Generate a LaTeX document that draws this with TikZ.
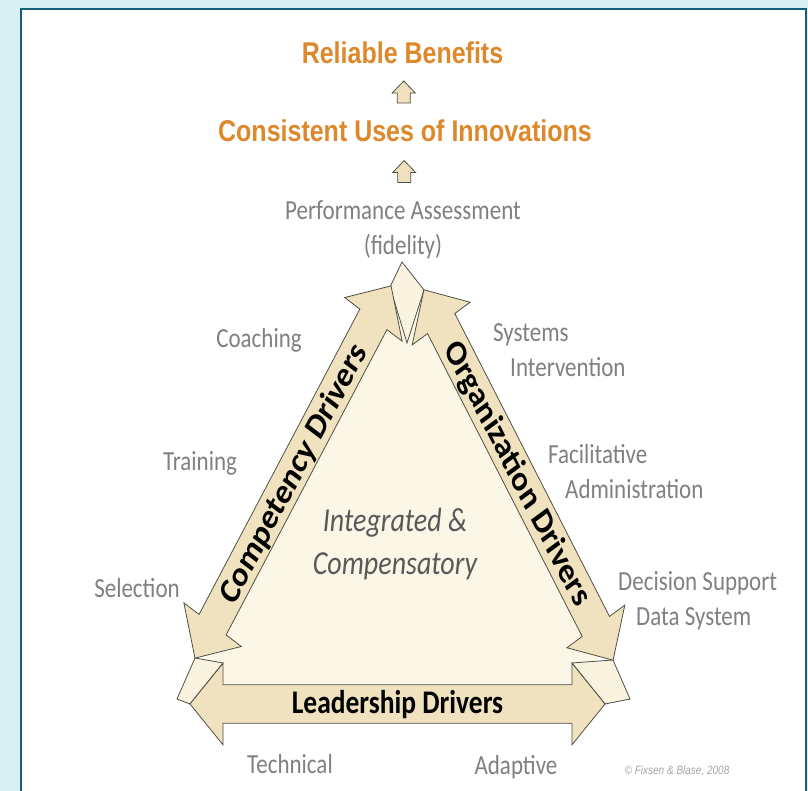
\documentclass[tikz,border=0pt]{standalone}
\usepackage{fontspec}
\setmainfont{Carlito}
\newfontfamily\arialfont{Liberation Sans}
\usetikzlibrary{calc}

\definecolor{bgblue}{RGB}{218,239,244}
\definecolor{frameteal}{RGB}{20,96,122}
\definecolor{titleorange}{RGB}{222,136,44}
\definecolor{sidegray}{RGB}{128,128,128}
\definecolor{middlegray}{RGB}{89,89,89}
\definecolor{arrowtan}{RGB}{240,226,190}
\definecolor{innercream}{RGB}{252,246,231}
\definecolor{cornercream}{RGB}{250,243,224}
\definecolor{edgegray}{RGB}{80,80,70}

\tikzset{
  titletext/.style={text=titleorange, font=\arialfont\bfseries\fontsize{25}{30}\selectfont, yscale=1.2, inner sep=0pt},
  sidetext/.style={text=sidegray, font=\fontsize{23}{29}\selectfont, yscale=1.2, inner sep=0pt},
  drivertext/.style={font=\bfseries\fontsize{27.5}{30}\selectfont, yscale=1.2, inner sep=0pt},
  blockarrow/.style={draw=edgegray, fill=arrowtan, line width=0.8pt, line join=miter},
  cornerpiece/.style={draw=edgegray, fill=cornercream, line width=0.8pt},
}

\begin{document}
\begin{tikzpicture}[x=1pt, y=-1pt]
    \useasboundingbox (0,0) rectangle (808,791);

    % frame
    \fill[bgblue] (0,0) rectangle (808,791);
    \fill[white] (21,9) rectangle (806,791);
    \draw[frameteal, line width=2.5pt] (21,791) -- (21,9) -- (806,9) -- (806,791);

    % triangle
    \fill[innercream] (403,290) -- (204.5,640) -- (212,704) -- (585,704) -- (602.7,640) -- cycle;
    \filldraw[cornerpiece] (402,262) -- (390,287) -- (407,343) -- (424,290) -- cycle;
    \filldraw[cornerpiece] (195,658) -- (223,663) -- (190,704) -- (177,699) -- cycle;
    \filldraw[cornerpiece] (572,663) -- (613,660) -- (630,699) -- (605,704) -- cycle;

    % driver arrows: centre x / centre y / angle / length
    \foreach \cx/\cy/\ang/\len in {293/472/57.7/367, 518.5/475/-58.5/362, 397.5/704/0/415}{
        \begin{scope}[shift={(\cx,\cy)}, yscale=1.2, rotate=\ang]
            \filldraw[blockarrow] (-\len/2,0) -- ++(33,34) -- ++(0,-18) -- (\len/2-33,16) -- ++(0,18)
                -- (\len/2,0) -- ++(-33,-34) -- ++(0,18) -- (-\len/2+33,-16) -- ++(0,-18) -- cycle;
        \end{scope}
    }

    \node[drivertext, font=\bfseries\fontsize{30}{30}\selectfont, rotate=57.7] (comp) at (294,474) {Competency Drivers};
    \node[drivertext, font=\bfseries\fontsize{30}{30}\selectfont, rotate=-58.5] (orga) at (517,474) {Organization Drivers};
    \node[drivertext] (lead) at (397.5,705) {Leadership Drivers};

    \node[text=middlegray, font=\itshape\fontsize{28}{36}\selectfont, yscale=1.2, inner sep=0pt, align=center] (integ) at (395,544) {Integrated \&\\Compensatory};

    % outcomes
    \node[titletext] (rb) at (402.5,53) {Reliable Benefits};
    \node[titletext] (cu) at (405,131) {Consistent Uses of Innovations};
    \node[sidetext, align=center] (pa) at (403,230) {Performance Assessment\\(fidelity)};

    \coordinate (up1) at ($(rb)!0.5!(cu)$);
    \coordinate (up2) at ($(cu)!0.41!(pa)$);
    \foreach \c in {up1,up2}
        \filldraw[blockarrow] (\c) ++(0,-11) -- ++(11.5,12) -- ++(-5,0) -- ++(0,10) -- ++(-13,0) -- ++(0,-10) -- ++(-5,0) -- cycle;

    % components
    \node[sidetext] (coach) at (259,340) {Coaching};
    \node[sidetext] (train) at (200,463) {Training};
    \node[sidetext] (sel) at (137,588) {Selection};
    \node[sidetext, anchor=west, align=left] (sys) at (493,350) {Systems\\\hspace*{17pt}Intervention};
    \node[sidetext, anchor=west, align=left] (fac) at (548,471.5) {Facilitative\\\hspace*{17pt}Administration};
    \node[sidetext, anchor=west, align=left] (dss) at (618,601) {Decision Support\\\hspace*{18pt}Data System};
    \node[sidetext] (tech) at (290,764) {Technical};
    \node[sidetext] (adapt) at (516,767) {Adaptive};

    \node[text=sidegray!70, font=\arialfont\itshape\fontsize{10}{12}\selectfont, yscale=1.2, inner sep=0pt] (copy) at (677,771) {© Fixsen \& Blase, 2008};
\end{tikzpicture}
\end{document}
